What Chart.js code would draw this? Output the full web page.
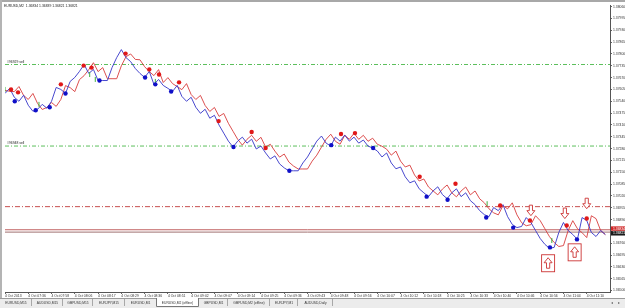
<!DOCTYPE html>
<html>
<head>
<meta charset="utf-8">
<script src="https://cdn.jsdelivr.net/npm/chart.js@4"></script>
<style>
html, body { margin: 0; padding: 0; background: #fff; }
body { width: 625px; height: 308px; position: relative; overflow: hidden; font-family: "Liberation Sans", Arial, sans-serif; }
#chart { position: absolute; left: 0; top: 0; }
#title { position: absolute; left: 4px; top: 4px; font-size: 3.4px; color: #222; white-space: nowrap; }
</style>
</head>
<body>
<canvas id="chart" width="625" height="308"></canvas>
<div id="title">EURUSD,M2&nbsp; 1.36834 1.36839 1.36821 1.36821</div>
<script>
// bar times shown on the time axis (one label every 5 bars)
const timeLabels = ['4 Oct 2013', '4 Oct 07:36', '4 Oct 07:58', '4 Oct 08:06', '4 Oct 08:17', '4 Oct 08:29',
  '4 Oct 08:36', '4 Oct 08:51', '4 Oct 09:02', '4 Oct 09:07', '4 Oct 09:14', '4 Oct 09:25', '4 Oct 09:36',
  '4 Oct 09:43', '4 Oct 09:48', '4 Oct 09:56', '4 Oct 10:07', '4 Oct 10:12', '4 Oct 10:18', '4 Oct 10:25',
  '4 Oct 10:33', '4 Oct 10:40', '4 Oct 10:46', '4 Oct 10:56', '4 Oct 11:04', '4 Oct 11:10'];
const timeTickBars = [0, 5, 10, 15, 20, 25, 30, 35, 40, 45, 50, 55, 60, 65, 70, 75, 80, 85, 90, 95, 100, 105, 110, 115, 120, 125];

// price scale labels
const priceTicks = [1.36500, 1.36565, 1.36630, 1.36695, 1.36760, 1.36825, 1.36890, 1.36955, 1.37020, 1.37085,
  1.37150, 1.37215, 1.37280, 1.37345, 1.37410, 1.37475, 1.37540, 1.37605, 1.37670, 1.37735,
  1.37800, 1.37865, 1.37930, 1.37995, 1.38060];
const priceMin = 1.36492;
const priceMax = 1.38069;

// blue line (fast) and red line (slow), one value per bar
const blueLine = [
  1.37583, 1.37611, 1.37562, 1.37540, 1.37573, 1.37518, 1.37485, 1.37496, 1.37523, 1.37502,
  1.37540, 1.37616, 1.37605, 1.37583, 1.37649, 1.37671, 1.37704, 1.37742, 1.37693, 1.37715,
  1.37654, 1.37654, 1.37654, 1.37725, 1.37780, 1.37824, 1.37780, 1.37758, 1.37720, 1.37693,
  1.37671, 1.37704, 1.37633, 1.37660, 1.37627, 1.37611, 1.37594, 1.37627, 1.37567, 1.37540,
  1.37562, 1.37507, 1.37474, 1.37496, 1.37447, 1.37463, 1.37409, 1.37365, 1.37321, 1.37289,
  1.37321, 1.37343, 1.37310, 1.37332, 1.37278, 1.37294, 1.37256, 1.37223, 1.37240, 1.37196,
  1.37174, 1.37158, 1.37158, 1.37158, 1.37201, 1.37234, 1.37278, 1.37321, 1.37349, 1.37310,
  1.37294, 1.37343, 1.37321, 1.37354, 1.37321, 1.37343, 1.37310, 1.37327, 1.37294, 1.37283,
  1.37267, 1.37234, 1.37256, 1.37201, 1.37169, 1.37179, 1.37125, 1.37092, 1.37103, 1.37059,
  1.37037, 1.37016, 1.37048, 1.37070, 1.37027, 1.37005, 1.37037, 1.37059, 1.37016, 1.37037,
  1.36994, 1.36972, 1.36939, 1.36917, 1.36906, 1.36956, 1.36939, 1.36972, 1.36906, 1.36863,
  1.36846, 1.36852, 1.36901, 1.36874, 1.36830, 1.36786, 1.36754, 1.36732, 1.36737, 1.36819,
  1.36874, 1.36830, 1.36808, 1.36781, 1.36901, 1.36885, 1.36819, 1.36797, 1.36830, 1.36808
];
const redLine = [
  1.37600, 1.37595, 1.37593, 1.37621, 1.37572, 1.37550, 1.37583, 1.37528, 1.37495, 1.37506,
  1.37533, 1.37512, 1.37550, 1.37626, 1.37615, 1.37593, 1.37659, 1.37681, 1.37714, 1.37752,
  1.37703, 1.37725, 1.37664, 1.37664, 1.37664, 1.37735, 1.37785, 1.37800, 1.37770, 1.37768,
  1.37730, 1.37703, 1.37681, 1.37714, 1.37643, 1.37670, 1.37637, 1.37621, 1.37604, 1.37637,
  1.37577, 1.37550, 1.37572, 1.37517, 1.37484, 1.37506, 1.37457, 1.37473, 1.37419, 1.37375,
  1.37331, 1.37299, 1.37331, 1.37353, 1.37320, 1.37342, 1.37288, 1.37304, 1.37266, 1.37233,
  1.37250, 1.37206, 1.37184, 1.37168, 1.37168, 1.37168, 1.37211, 1.37244, 1.37288, 1.37331,
  1.37359, 1.37320, 1.37304, 1.37353, 1.37331, 1.37364, 1.37331, 1.37353, 1.37320, 1.37337,
  1.37304, 1.37293, 1.37277, 1.37244, 1.37266, 1.37211, 1.37179, 1.37189, 1.37135, 1.37102,
  1.37113, 1.37069, 1.37047, 1.37026, 1.37058, 1.37080, 1.37037, 1.37015, 1.37047, 1.37069,
  1.37026, 1.37047, 1.37004, 1.36982, 1.36949, 1.36927, 1.36916, 1.36966, 1.36949, 1.36982,
  1.36916, 1.36873, 1.36856, 1.36862, 1.36911, 1.36884, 1.36840, 1.36796, 1.36764, 1.36742,
  1.36747, 1.36829, 1.36884, 1.36840, 1.36818, 1.36791, 1.36911, 1.36895, 1.36829, 1.36807
];

// swing markers (bar position, price)
const redDotBars = [1.3, 2.8, 12.0, 16.9, 18.6, 25.9, 31.0, 33.1, 37.4, 45.9, 53.0, 56.0, 72.2, 75.2, 89.1, 96.8, 106.4, 112.8, 120.7, 125.0];
const redDotPrices = [1.37605, 1.37589, 1.37633, 1.37736, 1.37725, 1.37802, 1.37715, 1.37687, 1.37644, 1.37431,
  1.37371, 1.37283, 1.37360, 1.37365, 1.37125, 1.37087, 1.36967, 1.36885, 1.36857, 1.36896];
const blueDotBars = [2.1, 6.6, 9.6, 13.0, 20.3, 30.1, 32.3, 35.7, 49.1, 61.1, 70.1, 79.1, 90.6, 95.1, 103.4, 109.2, 117.1, 122.9];
const blueDotPrices = [1.37540, 1.37491, 1.37507, 1.37583, 1.37654, 1.37671, 1.37633, 1.37594, 1.37289, 1.37158,
  1.37299, 1.37283, 1.37016, 1.36999, 1.36901, 1.36846, 1.36737, 1.36781];
const greenTickBars = [0, 7.3, 18.2, 19.4, 32.3, 103.6, 117.5];
const greenTickPrices = [1.37605, 1.37523, 1.37687, 1.37660, 1.37649, 1.36977, 1.36775];

// horizontal levels
const orderLevels = [1.37742, 1.37294];
const orderNames = ['#96929 sell', '#96948 sell'];
const redLevel = 1.36961;
const askPrice = 1.36834;
const bidPrice = 1.36821;

// signal arrows
const downArrowBars = [113.0, 120.3, 125.0];
const downArrowPrices = [1.36939, 1.36923, 1.36977];
const upArrowBars = [116.7, 122.4];
const upArrowPrices = [1.36650, 1.36710];

// terminal tabs below the chart
const tabNames = ['EURUSD,M15', 'AUDUSD,M15', 'GBPUSD,M15', 'EURJPY,M15', 'EURUSD,M1', 'EURUSD,M2 (offline)',
  'GBPUSD,M1', 'GBPUSD,M2 (offline)', 'EURJPY,M1', 'AUDUSD,Daily'];
const tabWidths = [32, 31, 30, 32, 31, 43, 29, 42, 28, 35];
const activeTab = 5;

const FONT = '"Liberation Sans", Arial, sans-serif';

function levelLine(v, color, dash) {
  return {
    data: [{ x: 0, y: v }, { x: 130, y: v }],
    borderColor: color, borderWidth: 1, borderDash: dash || [],
    pointRadius: 0, order: 3
  };
}

function downArrow(ctx, x, y) {
  ctx.beginPath();
  ctx.moveTo(x - 1.6, y - 5.5);
  ctx.lineTo(x + 1.6, y - 5.5);
  ctx.lineTo(x + 1.6, y);
  ctx.lineTo(x + 4, y);
  ctx.lineTo(x, y + 5);
  ctx.lineTo(x - 4, y);
  ctx.lineTo(x - 1.6, y);
  ctx.closePath();
  ctx.fillStyle = '#fff';
  ctx.fill();
  ctx.stroke();
}

function upArrowBox(ctx, x, y) {
  ctx.fillStyle = '#fff';
  ctx.fillRect(x - 6.5, y - 8.5, 13, 17);
  ctx.strokeRect(x - 6.5, y - 8.5, 13, 17);
  ctx.beginPath();
  ctx.moveTo(x, y - 5.5);
  ctx.lineTo(x + 4, y - 0.5);
  ctx.lineTo(x + 1.6, y - 0.5);
  ctx.lineTo(x + 1.6, y + 5);
  ctx.lineTo(x - 1.6, y + 5);
  ctx.lineTo(x - 1.6, y - 0.5);
  ctx.lineTo(x - 4, y - 0.5);
  ctx.closePath();
  ctx.stroke();
}

function drawTabs(ctx, w, h) {
  const top = h - 10;
  ctx.fillStyle = '#ececec';
  ctx.fillRect(0, top, w, 10);
  ctx.fillStyle = '#9a9a9a';
  ctx.fillRect(0, top, w, 1);
  ctx.font = '3.3px ' + FONT;
  ctx.textAlign = 'center';
  ctx.textBaseline = 'middle';
  let x = 0;
  tabNames.forEach((name, i) => {
    const tw = tabWidths[i];
    if (i === activeTab) {
      ctx.fillStyle = '#fff';
      ctx.fillRect(x, top, tw, 9);
      ctx.strokeStyle = '#777';
      ctx.lineWidth = 1;
      ctx.beginPath();
      ctx.moveTo(x + 0.5, top);
      ctx.lineTo(x + 0.5, top + 8.5);
      ctx.lineTo(x + tw - 0.5, top + 8.5);
      ctx.lineTo(x + tw - 0.5, top);
      ctx.stroke();
    } else if (i + 1 !== activeTab) {
      ctx.fillStyle = '#a8a8a8';
      ctx.fillRect(x + tw - 1, top + 1, 1, 7);
    }
    ctx.fillStyle = '#333';
    ctx.fillText(name, x + tw / 2, top + 4.6);
    x += tw;
  });
  ctx.fillStyle = '#666';
  ctx.font = '4px ' + FONT;
  ctx.fillText('\u25C2', w - 13, top + 4.6);
  ctx.fillText('\u25B8', w - 6, top + 4.6);
}

const overlay = {
  id: 'overlay',
  beforeDraw(chart) {
    const { ctx, width, height } = chart;
    ctx.save();
    ctx.fillStyle = '#a8a8a8';
    ctx.fillRect(0, 0, width, 2);
    ctx.fillStyle = '#b4b4b4';
    ctx.fillRect(0, 0, 2, height - 10);
    ctx.restore();
  },
  afterDatasetsDraw(chart) {
    const { ctx, chartArea } = chart;
    const xs = chart.scales.x, ys = chart.scales.y;
    ctx.save();
    ctx.font = '3.4px ' + FONT;
    ctx.fillStyle = '#222';
    ctx.textBaseline = 'bottom';
    orderLevels.forEach((v, i) => ctx.fillText(orderNames[i], chartArea.left + 2, ys.getPixelForValue(v) - 0.8));
    ctx.strokeStyle = '#cc3333';
    ctx.lineWidth = 0.9;
    downArrowBars.forEach((b, i) => downArrow(ctx, xs.getPixelForValue(b), ys.getPixelForValue(downArrowPrices[i])));
    upArrowBars.forEach((b, i) => upArrowBox(ctx, xs.getPixelForValue(b), ys.getPixelForValue(upArrowPrices[i])));
    ctx.restore();
  },
  afterDraw(chart) {
    const { ctx, chartArea, width, height } = chart;
    const ys = chart.scales.y;
    ctx.save();
    ctx.font = '3.4px ' + FONT;
    ctx.textBaseline = 'middle';
    [[bidPrice, '#1a1a1a', 1.2], [askPrice, '#d02828', -1.2]].forEach(([v, bg, off]) => {
      const y = ys.getPixelForValue(v) + off;
      ctx.fillStyle = bg;
      ctx.fillRect(chartArea.right + 1, y - 2.2, 15, 4.4);
      ctx.fillStyle = '#fff';
      ctx.fillText(v.toFixed(5), chartArea.right + 3, y + 0.2);
    });
    drawTabs(ctx, width, height);
    ctx.restore();
  }
};

new Chart(document.getElementById('chart'), {
  type: 'line',
  data: {
    datasets: [
      { type: 'scatter', data: redDotBars.map((b, i) => ({ x: b, y: redDotPrices[i] })),
        pointRadius: 2.2, backgroundColor: '#e01818', borderWidth: 0, order: 0 },
      { type: 'scatter', data: blueDotBars.map((b, i) => ({ x: b, y: blueDotPrices[i] })),
        pointRadius: 2.2, backgroundColor: '#1010c8', borderWidth: 0, order: 0 },
      { type: 'scatter', data: greenTickBars.map((b, i) => ({ x: b, y: greenTickPrices[i] })),
        pointStyle: 'line', rotation: 90, pointRadius: 2.5, borderColor: '#3fb03f', borderWidth: 1, order: 1 },
      { data: blueLine.map((v, i) => ({ x: i, y: v })), borderColor: '#3434c8', borderWidth: 0.9,
        pointRadius: 0, tension: 0, order: 2 },
      { data: redLine.map((v, i) => ({ x: i, y: v })), borderColor: '#d83c3c', borderWidth: 0.9,
        pointRadius: 0, tension: 0, order: 2 },
      levelLine(orderLevels[0], '#5cbf5c', [4, 2, 1, 2]),
      levelLine(orderLevels[1], '#5cbf5c', [4, 2, 1, 2]),
      levelLine(redLevel, '#c85050', [5, 2, 1, 2]),
      levelLine(askPrice, '#c06060'),
      levelLine(bidPrice, '#a07070')
    ]
  },
  options: {
    responsive: false,
    animation: false,
    events: [],
    layout: { padding: { top: 3, left: 2, right: 0, bottom: 10 } },
    plugins: { legend: { display: false }, tooltip: { enabled: false } },
    scales: {
      x: {
        type: 'linear', min: 0, max: 130,
        afterBuildTicks: s => { s.ticks = timeTickBars.map(v => ({ value: v })); },
        afterFit: s => { s.height = 6; },
        grid: { drawOnChartArea: false, tickLength: 2, color: '#666' },
        border: { color: '#555', width: 1 },
        ticks: {
          align: 'start', padding: 0, maxRotation: 0, autoSkip: false, color: '#333',
          font: { size: 3.4, family: FONT },
          callback: (v, i) => timeLabels[i]
        }
      },
      y: {
        position: 'right', min: priceMin, max: priceMax,
        afterBuildTicks: s => { s.ticks = priceTicks.map(v => ({ value: v })); },
        afterFit: s => { s.width = 15; },
        grid: { drawOnChartArea: false, tickLength: 2, color: '#666' },
        border: { color: '#555', width: 1 },
        ticks: {
          padding: 1, autoSkip: false, color: '#333',
          font: { size: 3.4, family: FONT },
          callback: v => v.toFixed(5)
        }
      }
    }
  },
  plugins: [overlay]
});
</script>
</body>
</html>
